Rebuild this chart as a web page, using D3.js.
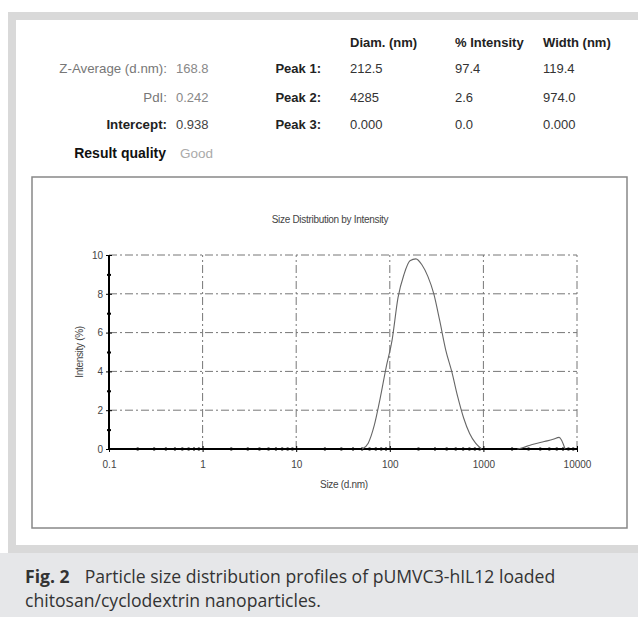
<!DOCTYPE html>
<html>
<head>
<meta charset="utf-8">
<script src="https://cdn.jsdelivr.net/npm/d3@7"></script>
<style>
  body { margin: 0; background: #fff; }
  svg { display: block; font-family: "Liberation Sans", Arial, sans-serif; }
</style>
</head>
<body>
<svg width="638" height="617"></svg>
<script>
// data
var sizes1 = [50.7, 58.8, 68.1, 78.8, 91.3, 105.7, 122.4, 141.8, 164.2, 190.1, 220.2, 255.0, 295.3, 342.0, 396.1, 458.7, 531.2, 615.1, 712.4, 825.0, 955.4];
var intens1 = [0, 0.3, 1.2, 2.6, 4.2, 5.6, 7.8, 9.0, 9.7, 9.8, 9.5, 8.9, 8.0, 6.6, 5.1, 4.0, 2.7, 1.6, 0.8, 0.3, 0];
var sizes2 = [2305, 2669, 3091, 3580, 4145, 4801, 5560, 6439, 7456];
var intens2 = [0, 0.08, 0.18, 0.27, 0.35, 0.42, 0.5, 0.6, 0];
var xTicks = [0.1, 1, 10, 100, 1000, 10000];
var yTicks = [0, 2, 4, 6, 8, 10];

var headers = ["Diam. (nm)", "% Intensity", "Width (nm)"];
var peakLabels = ["Peak 1:", "Peak 2:", "Peak 3:"];
var peakDiam = ["212.5", "4285", "0.000"];
var peakInt = ["97.4", "2.6", "0.0"];
var peakWidth = ["119.4", "974.0", "0.000"];
var sumLabels = ["Z-Average (d.nm):", "PdI:", "Intercept:"];
var sumValues = ["168.8", "0.242", "0.938"];

var svg = d3.select("svg");

// frame and caption background
svg.append("rect").attr("x", 8).attr("y", 12).attr("width", 630).attr("height", 541).attr("fill", "#d9d9d9");
svg.append("rect").attr("x", 16).attr("y", 20).attr("width", 622).attr("height", 525).attr("fill", "#fff");
svg.append("rect").attr("x", 0).attr("y", 553).attr("width", 638).attr("height", 64).attr("fill", "#e6e7e9");

// result table
var rowY = [73, 102, 129];
var colX = [350, 455, 543];

svg.selectAll(".hdr").data(headers).enter().append("text")
  .attr("x", (d, i) => colX[i]).attr("y", 47)
  .attr("font-size", 13).attr("font-weight", "bold").attr("fill", "#222")
  .text(d => d);

svg.selectAll(".slab").data(sumLabels).enter().append("text")
  .attr("x", 167).attr("y", (d, i) => rowY[i])
  .attr("text-anchor", "end").attr("font-size", 13.3)
  .attr("font-weight", (d, i) => i == 2 ? "bold" : "normal")
  .attr("fill", (d, i) => i == 2 ? "#222" : "#777")
  .text(d => d);

svg.selectAll(".sval").data(sumValues).enter().append("text")
  .attr("x", 176).attr("y", (d, i) => rowY[i])
  .attr("font-size", 13).attr("fill", (d, i) => i == 2 ? "#444" : "#888")
  .text(d => d);

svg.append("text").attr("x", 166).attr("y", 158).attr("text-anchor", "end")
  .attr("font-size", 14).attr("font-weight", "bold").attr("fill", "#111")
  .text("Result quality");
svg.append("text").attr("x", 180).attr("y", 158)
  .attr("font-size", 13.5).attr("fill", "#aaa").text("Good");

svg.selectAll(".plab").data(peakLabels).enter().append("text")
  .attr("x", 321).attr("y", (d, i) => rowY[i])
  .attr("text-anchor", "end").attr("font-size", 13).attr("font-weight", "bold").attr("fill", "#222")
  .text(d => d);

[peakDiam, peakInt, peakWidth].forEach(function(col, c) {
  svg.selectAll(".pc" + c).data(col).enter().append("text")
    .attr("x", colX[c]).attr("y", (d, i) => rowY[i])
    .attr("font-size", 13).attr("fill", "#333")
    .text(d => d);
});

// chart box
svg.append("rect").attr("x", 32).attr("y", 177).attr("width", 595).attr("height", 351)
  .attr("fill", "#fff").attr("stroke", "#888").attr("stroke-width", 1.5);

var x0 = 109, x1 = 577, y0 = 449, y1 = 255;
var xScale = d3.scaleLog().domain([0.1, 10000]).range([x0, x1]);
var yScale = d3.scaleLinear().domain([0, 10]).range([y0, y1]);

var g = svg.append("g");

// grid
g.selectAll(".gx").data(xTicks.slice(1)).enter().append("line")
  .attr("x1", d => xScale(d)).attr("x2", d => xScale(d))
  .attr("y1", y0).attr("y2", y1)
  .attr("stroke", "#777").attr("stroke-dasharray", "8,3,2,3");
g.selectAll(".gy").data(yTicks.slice(1)).enter().append("line")
  .attr("x1", x0).attr("x2", x1)
  .attr("y1", d => yScale(d)).attr("y2", d => yScale(d))
  .attr("stroke", "#777").attr("stroke-dasharray", "8,3,2,3");

// axes
var minorX = [];
for (var e = -1; e < 4; e++) for (var k = 2; k < 10; k++) minorX.push(k * Math.pow(10, e));

g.append("g").attr("transform", "translate(0," + y0 + ")")
  .call(d3.axisBottom(xScale).tickValues(minorX).tickSize(3).tickFormat(""))
  .call(a => a.selectAll(".tick line").attr("y1", -1.5).attr("y2", 1.5).attr("stroke-width", 2))
  .call(a => a.select(".domain").remove());

g.append("g").attr("transform", "translate(0," + y0 + ")")
  .call(d3.axisBottom(xScale).tickValues(xTicks).tickSize(3).tickFormat(d => d3.format("")(d)))
  .call(a => a.selectAll(".tick line").attr("y1", -3).attr("y2", 3))
  .call(a => a.select(".domain").attr("stroke-width", 2).attr("d", "M" + x0 + ",0H" + x1))
  .call(a => a.selectAll("text").attr("y", 12).attr("font-size", 10).attr("fill", "#444")
    .attr("font-family", "Liberation Sans, Arial, sans-serif"));

g.append("g").attr("transform", "translate(" + x0 + ",0)")
  .call(d3.axisLeft(yScale).tickValues([1, 3, 5, 7, 9]).tickFormat(""))
  .call(a => a.selectAll(".tick line").attr("x1", -2).attr("x2", 2).attr("stroke-width", 2))
  .call(a => a.select(".domain").remove());

g.append("g").attr("transform", "translate(" + x0 + ",0)")
  .call(d3.axisLeft(yScale).tickValues(yTicks))
  .call(a => a.selectAll(".tick line").attr("x1", -3).attr("x2", 3))
  .call(a => a.select(".domain").attr("stroke-width", 2).attr("d", "M0," + y0 + "V" + y1))
  .call(a => a.selectAll("text").attr("x", -6).attr("font-size", 10).attr("fill", "#444")
    .attr("font-family", "Liberation Sans, Arial, sans-serif"));

// curves
var line = d3.line().x(d => xScale(d[0])).y(d => yScale(d[1])).curve(d3.curveMonotoneX);
g.append("path").datum(d3.zip(sizes1, intens1)).attr("d", line)
  .attr("fill", "none").attr("stroke", "#666").attr("stroke-width", 1.1);
g.append("path").datum(d3.zip(sizes2, intens2)).attr("d", line)
  .attr("fill", "none").attr("stroke", "#666").attr("stroke-width", 1.1);

// chart labels
svg.append("text").attr("x", 330).attr("y", 223).attr("text-anchor", "middle")
  .attr("font-size", 10).attr("letter-spacing", -0.3).attr("fill", "#444")
  .text("Size Distribution by Intensity");
svg.append("text").attr("x", 344).attr("y", 488).attr("text-anchor", "middle")
  .attr("font-size", 10).attr("letter-spacing", -0.3).attr("fill", "#444")
  .text("Size (d.nm)");
svg.append("text").attr("transform", "translate(83,352) rotate(-90)").attr("text-anchor", "middle")
  .attr("font-size", 10).attr("letter-spacing", -0.3).attr("fill", "#444")
  .text("Intensity (%)");

// caption
var cap = svg.append("text").attr("x", 25).attr("y", 583)
  .attr("font-family", "Open Sans, Noto Sans, sans-serif").attr("font-size", 17.6).attr("fill", "#333");
cap.append("tspan").attr("font-weight", "bold").text("Fig. 2");
cap.append("tspan").attr("dx", 15).text("Particle size distribution profiles of pUMVC3-hIL12 loaded");
svg.append("text").attr("x", 25).attr("y", 607)
  .attr("font-family", "Open Sans, Noto Sans, sans-serif").attr("font-size", 17.6).attr("fill", "#333")
  .text("chitosan/cyclodextrin nanoparticles.");
</script>
</body>
</html>
